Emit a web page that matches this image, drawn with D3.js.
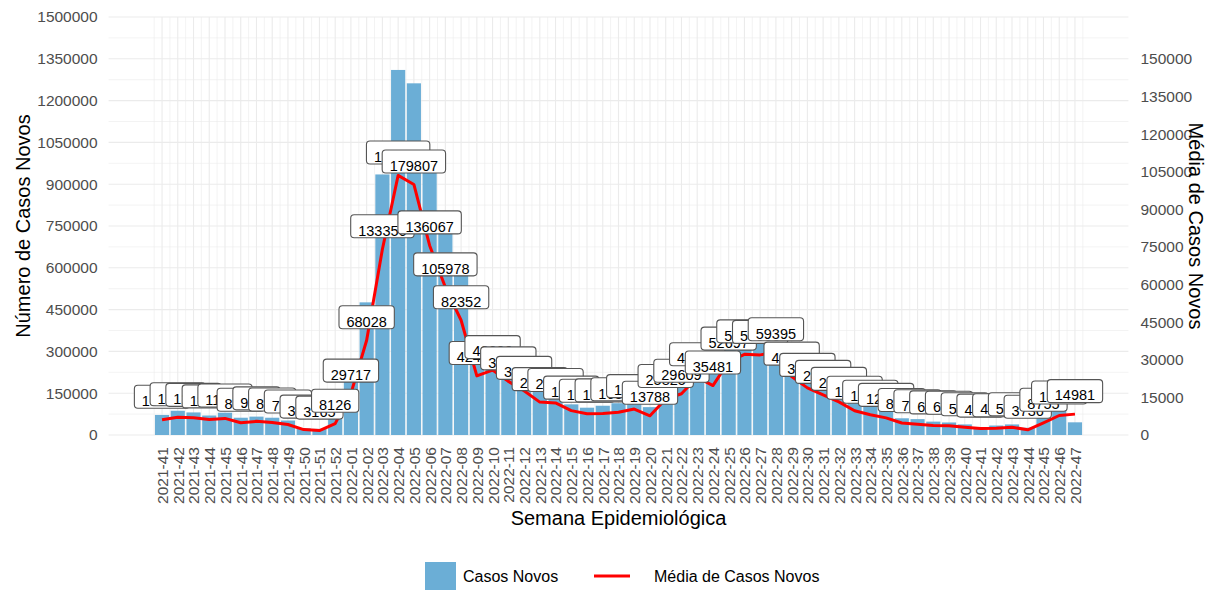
<!DOCTYPE html>
<html>
<head>
<meta charset="utf-8">
<script src="https://cdn.jsdelivr.net/npm/d3@7"></script>
<style>
  body { margin: 0; background: #fff; }
  svg { font-family: "Liberation Sans", Arial, sans-serif; }
</style>
</head>
<body>
<div id="chart"></div>
<script>
const semanas = [
  "2021-41","2021-42","2021-43","2021-44","2021-45","2021-46","2021-47","2021-48","2021-49","2021-50","2021-51","2021-52",
  "2022-01","2022-02","2022-03","2022-04","2022-05","2022-06","2022-07","2022-08","2022-09","2022-10",
  "2022-11","2022-12","2022-13","2022-14","2022-15","2022-16","2022-17","2022-18","2022-19","2022-20",
  "2022-21","2022-22","2022-23","2022-24","2022-25","2022-26","2022-27","2022-28","2022-29","2022-30",
  "2022-31","2022-32","2022-33","2022-34","2022-35","2022-36","2022-37","2022-38","2022-39","2022-40",
  "2022-41","2022-42","2022-43","2022-44","2022-45","2022-46","2022-47"
]

// casos novos por semana (barras, eixo esquerdo)
const casosNovos = [
  72000, 87000, 81000, 70000, 80000, 62000, 66000, 62000, 52000, 24000, 22000, 57000,
  208000, 476000, 935000, 1310000, 1262000, 951000, 742000, 576000, 293000, 315000,
  258000, 220000, 165000, 157000, 110000, 98000, 105000, 114000, 114000, 100000,
  180000, 207000, 285000, 248000, 369000, 400000, 398000, 405000, 293000, 238000,
  200000, 162000, 127000, 110000, 87000, 60000, 57000, 48000, 45000, 38000,
  28000, 34000, 38000, 26000, 61000, 93000, 45500
]

// média diária de casos novos (linha e rótulos)
const mediaCasos = [
  10900, 12700, 12300, 11200, 11900, 8800, 9800, 8950, 7500, 3900, 3165, 8126,
  29717, 68028, 133356, 186300, 179807, 136067, 105978, 82352, 42400, 46600,
  38500, 31700, 23600, 23000, 17500, 15300, 15500, 16300, 18600, 13788,
  25825, 29609, 41500, 35481, 52697, 57900, 57500, 59395, 41900, 33800,
  28800, 23800, 17400, 14500, 12300, 8600, 7700, 6900, 6600, 5600,
  4600, 4900, 5600, 3736, 8755, 14000, 14981
]

const ticksEsq = d3.range(0, 1500001, 150000)
const ticksDir = d3.range(0, 150001, 15000)
const fatorLinha = 5      // média plotada como média * 5 no eixo esquerdo
const razaoEixos = 9      // eixo direito = eixo esquerdo / 9
const nudgeRotulo = 82500 // deslocamento vertical dos rótulos

const width = 1221, height = 590
const margin = { top: 17, right: 92.6, bottom: 155, left: 108.6 }
const innerW = width - margin.left - margin.right
const innerH = height - margin.top - margin.bottom
const n = semanas.length
const half = 0.45
const expand = 0.05 * (n - 1 + 2 * half)

const x = d3.scaleLinear()
  .domain([-half - expand, n - 1 + half + expand])
  .range([margin.left, margin.left + innerW])
const y = d3.scaleLinear().domain([0, 1500000]).range([margin.top + innerH, margin.top])
const y2 = d3.scaleLinear().domain([0, 1500000 / razaoEixos]).range([margin.top + innerH, margin.top])

const svg = d3.select("#chart").append("svg")
  .attr("width", width).attr("height", height)

const grid = svg.append("g")
// minor horizontal
ticksEsq.slice(0, -1).forEach(t => {
  grid.append("line")
    .attr("x1", margin.left).attr("x2", margin.left + innerW)
    .attr("y1", y(t + 75000)).attr("y2", y(t + 75000))
    .attr("stroke", "#ebebeb").attr("stroke-width", 0.6)
})
// minor vertical
d3.range(-0.5, n + 0.5, 1).forEach(t => {
  grid.append("line")
    .attr("x1", x(t)).attr("x2", x(t))
    .attr("y1", margin.top).attr("y2", margin.top + innerH)
    .attr("stroke", "#ebebeb").attr("stroke-width", 0.6)
})
// major
ticksEsq.forEach(t => {
  grid.append("line")
    .attr("x1", margin.left).attr("x2", margin.left + innerW)
    .attr("y1", y(t)).attr("y2", y(t))
    .attr("stroke", "#ebebeb").attr("stroke-width", 1.1)
})
d3.range(n).forEach(t => {
  grid.append("line")
    .attr("x1", x(t)).attr("x2", x(t))
    .attr("y1", margin.top).attr("y2", margin.top + innerH)
    .attr("stroke", "#ebebeb").attr("stroke-width", 1.1)
})

// barras
const bw = x(half) - x(-half)
svg.append("g").selectAll("rect")
  .data(casosNovos)
  .join("rect")
  .attr("x", (d, i) => x(i) - bw / 2)
  .attr("y", d => y(d))
  .attr("width", bw)
  .attr("height", d => y(0) - y(d))
  .attr("fill", "#6baed6")

// linha
const line = d3.line()
  .x((d, i) => x(i))
  .y(d => y(d * fatorLinha))
svg.append("path")
  .datum(mediaCasos)
  .attr("d", line)
  .attr("fill", "none")
  .attr("stroke", "#ff0000")
  .attr("stroke-width", 3)
  .attr("stroke-linejoin", "round")

// rótulos (texto fica na parte de baixo da caixa, como no original)
const labels = svg.append("g")
mediaCasos.forEach((v, i) => {
  const cx = x(i)
  const cy = y(v * fatorLinha + nudgeRotulo)
  const g = labels.append("g")
  const rect = g.append("rect")
  const txt = g.append("text")
    .attr("x", cx).attr("y", cy + 9.3)
    .attr("text-anchor", "middle")
    .attr("font-size", 14.5)
    .attr("fill", "#000")
    .text(v)
  const w = txt.node().getComputedTextLength() + 15
  rect.attr("x", cx - w / 2).attr("y", cy - 11.5)
    .attr("width", w).attr("height", 23)
    .attr("rx", 3.5)
    .attr("fill", "#fff")
    .attr("stroke", "#555")
    .attr("stroke-width", 1.1)
})

// eixo esquerdo
svg.append("g")
  .attr("transform", `translate(${margin.left - 8},0)`)
  .call(d3.axisLeft(y).tickValues(ticksEsq).tickSize(0).tickFormat(d3.format("d")))
  .call(g => g.select(".domain").remove())
  .call(g => g.selectAll(".tick text").attr("font-size", 15.5).attr("fill", "#4d4d4d")
    .attr("font-family", "Liberation Sans, Arial, sans-serif"))

// eixo direito
svg.append("g")
  .attr("transform", `translate(${margin.left + innerW + 9},0)`)
  .call(d3.axisRight(y2).tickValues(ticksDir).tickSize(0).tickFormat(d3.format("d")))
  .call(g => g.select(".domain").remove())
  .call(g => g.selectAll(".tick text").attr("font-size", 15.5).attr("fill", "#4d4d4d")
    .attr("font-family", "Liberation Sans, Arial, sans-serif"))

// eixo x
svg.append("g")
  .attr("transform", `translate(0,${margin.top + innerH + 12})`)
  .call(d3.axisBottom(x).tickValues(d3.range(n)).tickSize(0).tickFormat(i => semanas[i]))
  .call(g => g.select(".domain").remove())
  .call(g => g.selectAll(".tick text")
    .attr("font-size", 15.5).attr("fill", "#4d4d4d")
    .attr("font-family", "Liberation Sans, Arial, sans-serif")
    .attr("transform", "rotate(-90)")
    .attr("text-anchor", "end")
    .attr("x", 0).attr("y", 0).attr("dy", "0.35em"))

// títulos
svg.append("text")
  .attr("x", margin.left + innerW / 2).attr("y", 525)
  .attr("text-anchor", "middle").attr("font-size", 20).attr("fill", "#000")
  .text("Semana Epidemiológica")
svg.append("text")
  .attr("transform", `translate(30,${margin.top + innerH / 2}) rotate(-90)`)
  .attr("text-anchor", "middle").attr("font-size", 20).attr("fill", "#000")
  .text("Número de Casos Novos")
svg.append("text")
  .attr("transform", `translate(1189,${margin.top + innerH / 2}) rotate(90)`)
  .attr("text-anchor", "middle").attr("font-size", 20).attr("fill", "#000")
  .text("Média de Casos Novos")

// legenda
const legend = svg.append("g")
legend.append("rect")
  .attr("x", 425).attr("y", 562).attr("width", 31).attr("height", 28)
  .attr("fill", "#6baed6")
legend.append("text")
  .attr("x", 463).attr("y", 582).attr("font-size", 16).attr("fill", "#000")
  .text("Casos Novos")
legend.append("line")
  .attr("x1", 594).attr("x2", 630).attr("y1", 576).attr("y2", 576)
  .attr("stroke", "#ff0000").attr("stroke-width", 3)
legend.append("text")
  .attr("x", 654).attr("y", 582).attr("font-size", 16).attr("fill", "#000")
  .text("Média de Casos Novos")
</script>
</body>
</html>
